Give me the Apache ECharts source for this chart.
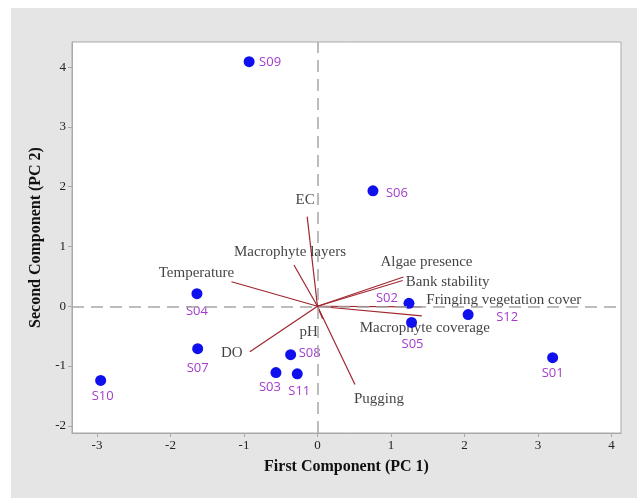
<!DOCTYPE html>
<html>
<head>
<meta charset="utf-8">
<script src="https://cdn.jsdelivr.net/npm/echarts@6/dist/echarts.min.js"></script>
<style>
  html, body { margin: 0; padding: 0; background: #ffffff; }
  #chart { width: 637px; height: 498px; }
</style>
</head>
<body>
<div id="chart"></div>
<script>
// PCA biplot: site scores (PC1, PC2) and variable loadings
const siteNames = ['S01', 'S02', 'S03', 'S04', 'S05', 'S06', 'S07', 'S08', 'S09', 'S10', 'S11', 'S12'];
const sitePC1 = [3.20, 1.245, -0.565, -1.64, 1.28, 0.755, -1.63, -0.365, -0.93, -2.95, -0.275, 2.05];
const sitePC2 = [-0.86, 0.05, -1.11, 0.21, -0.27, 1.93, -0.71, -0.81, 4.09, -1.24, -1.13, -0.14];

const varNames = ['EC', 'Macrophyte layers', 'Temperature', 'DO', 'pH', 'Pugging',
  'Algae presence', 'Bank stability', 'Fringing vegetation cover', 'Macrophyte coverage'];
const varPC1 = [-0.14, -0.32, -1.17, -0.92, 0.07, 0.51, 1.17, 1.16, 1.42, 1.42];
const varPC2 = [1.50, 0.69, 0.41, -0.76, -0.21, -1.31, 0.49, 0.43, -0.01, -0.16];

const xTicks = [-3, -2, -1, 0, 1, 2, 3, 4];
const yTicks = [-2, -1, 0, 1, 2, 3, 4];

// label placement (pixel offsets from each mark)
const siteLabelOffset = {
  S01: [0, 16], S02: [-22, -5], S03: [-6, 15], S04: [0, 18], S05: [1, 22], S06: [24, 2],
  S07: [0, 20], S08: [19, -1], S09: [21, 1], S10: [2, 16], S11: [2, 17], S12: [39, 3]
};
const varLabelOffset = {
  'EC': [-2, -17], 'Macrophyte layers': [-4, -13], 'Temperature': [-35, -9], 'DO': [-18, 1],
  'pH': [-14, 13], 'Pugging': [24, 14], 'Algae presence': [23, -15], 'Bank stability': [45, 2],
  'Fringing vegetation cover': [82, -7], 'Macrophyte coverage': [3, 12]
};

const serif = '"Liberation Serif", "Times New Roman", serif';
const loadingColor = '#a0262e';
const frameColor = '#a9a9a9';

const siteData = siteNames.map((n, i) => ({
  name: n,
  value: [sitePC1[i], sitePC2[i]],
  label: { offset: siteLabelOffset[n] }
}));
const vectorData = varNames.map((n, i) => ({ coords: [[0, 0], [varPC1[i], varPC2[i]]] }));
const vectorEnds = varNames.map((n, i) => ({
  name: n,
  value: [varPC1[i], varPC2[i]],
  label: { offset: varLabelOffset[n] }
}));

const chart = echarts.init(document.getElementById('chart'), null, { renderer: 'canvas' });
chart.setOption({
  animation: false,
  backgroundColor: '#ffffff',
  graphic: [{
    type: 'rect', left: 11, top: 8, z: -10,
    shape: { width: 626, height: 490 },
    style: { fill: '#e5e5e5' }
  }],
  grid: {
    left: 72, top: 42, right: 16, bottom: 65,
    show: true, backgroundColor: '#ffffff', borderColor: frameColor, borderWidth: 1
  },
  xAxis: {
    type: 'value', min: -3.34, max: 4.13,
    name: 'First Component (PC 1)', nameLocation: 'middle', nameGap: 26,
    nameTextStyle: { fontFamily: serif, fontWeight: 'bold', fontSize: 16, color: '#111' },
    splitLine: { show: false },
    axisLine: { onZero: false, lineStyle: { color: frameColor } },
    axisTick: { customValues: xTicks, length: 4, lineStyle: { color: frameColor } },
    axisLabel: { customValues: xTicks, fontFamily: serif, fontSize: 13, color: '#222', margin: 6 }
  },
  yAxis: {
    type: 'value', min: -2.12, max: 4.42,
    name: 'Second Component (PC 2)', nameLocation: 'middle', nameGap: 24, nameRotate: 90,
    nameTextStyle: { fontFamily: serif, fontWeight: 'bold', fontSize: 16, color: '#111' },
    splitLine: { show: false },
    axisLine: { onZero: false, lineStyle: { color: frameColor } },
    axisTick: { customValues: yTicks, length: 4, lineStyle: { color: frameColor } },
    axisLabel: { customValues: yTicks, fontFamily: serif, fontSize: 13, color: '#222', margin: 6 }
  },
  series: [
    {
      // dashed reference lines through the origin
      type: 'scatter', data: [], silent: true, z: 1,
      markLine: {
        silent: true, symbol: 'none', label: { show: false },
        lineStyle: { color: '#a6a6a6', type: [12, 7], width: 1.5 },
        data: [{ xAxis: 0 }, { yAxis: 0 }]
      }
    },
    {
      type: 'lines', coordinateSystem: 'cartesian2d', z: 2,
      lineStyle: { color: loadingColor, width: 1.2, opacity: 1 },
      data: vectorData
    },
    {
      type: 'scatter', z: 3, symbolSize: 0, data: vectorEnds,
      label: {
        show: true, position: 'inside', formatter: '{b}',
        fontFamily: serif, fontSize: 15, color: '#111'
      }
    },
    {
      type: 'scatter', z: 4, symbol: 'circle', symbolSize: 11,
      itemStyle: { color: '#1010ee', opacity: 1 },
      data: siteData,
      label: {
        show: true, position: 'inside', formatter: '{b}',
        fontFamily: '"Open Sans", sans-serif', fontSize: 13, color: '#a33ccc'
      }
    }
  ]
});
</script>
</body>
</html>
